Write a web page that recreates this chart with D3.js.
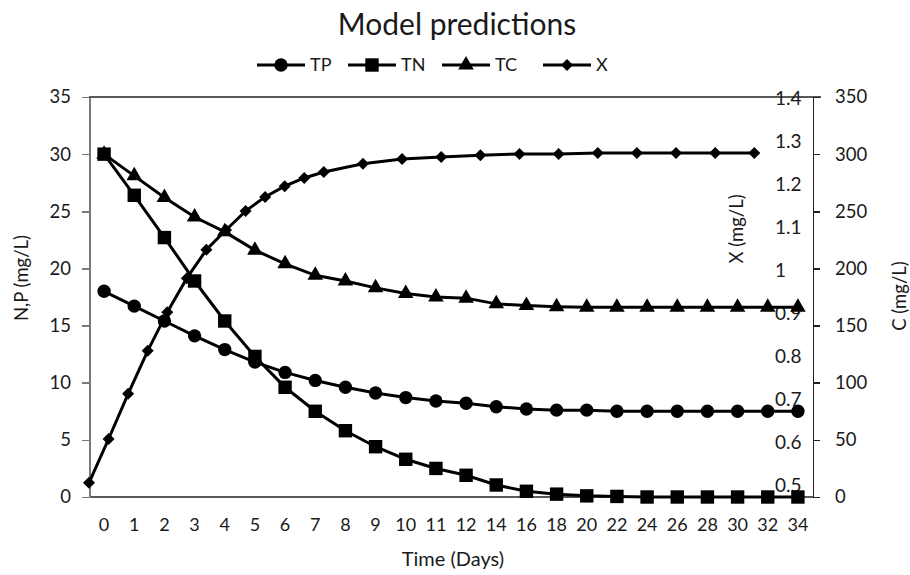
<!DOCTYPE html>
<html lang="en">
<head>
  <meta charset="UTF-8">
  <title>Model predictions</title>
  <script src="https://d3js.org/d3.v7.min.js"></script>
  <style>
    body { margin: 0; background: #fff; }
    svg text { font-family: Lato, "Open Sans", sans-serif; fill: #1a1a1a; }
    .axis text { font-size: 18.5px; }
    .axis path, .axis line { shape-rendering: crispEdges; }
  </style>
</head>
<body>
  <svg width="910" height="575"></svg>
  <script>
  // data
  const days = [0, 1, 2, 3, 4, 5, 6, 7, 8, 9, 10, 11, 12, 14, 16, 18, 20, 22, 24, 26, 28, 30, 32, 34];
  const tp = [18.0, 16.7, 15.4, 14.1, 12.9, 11.8, 10.9, 10.2, 9.6, 9.1, 8.7, 8.4, 8.2, 7.9, 7.7, 7.6, 7.6, 7.5, 7.5, 7.5, 7.5, 7.5, 7.5, 7.5];
  const tn = [30.0, 26.4, 22.7, 18.9, 15.4, 12.3, 9.6, 7.5, 5.8, 4.4, 3.3, 2.5, 1.9, 1.05, 0.5, 0.25, 0.1, 0.05, 0, 0, 0, 0, 0, 0];
  const tc = [300, 281, 262, 245, 232, 216, 204, 194, 189, 183, 178, 175, 174, 169, 167.5, 166.5, 166, 166, 166, 166, 166, 166, 166, 166];
  const xb = [0.505, 0.607, 0.712, 0.812, 0.902, 0.981, 1.047, 1.093, 1.137, 1.17, 1.195, 1.214, 1.228, 1.247, 1.258, 1.263, 1.267, 1.27, 1.27, 1.272, 1.272, 1.272, 1.272, 1.272];
  const npTicks = [0, 5, 10, 15, 20, 25, 30, 35];
  const cTicks = [0, 50, 100, 150, 200, 250, 300, 350];
  const xTicks = [0.5, 0.6, 0.7, 0.8, 0.9, 1, 1.1, 1.2, 1.3, 1.4];

  const plotL = 89, plotR = 813, plotT = 97, plotB = 497;

  const svg = d3.select("svg");

  const x = d3.scaleBand().domain(days).range([plotL, plotR]);
  const xDay = d3.scaleLinear().domain([0, 37]).range([plotL, plotR]); // hidden secondary axis for X
  const yNP = d3.scaleLinear().domain([0, 35]).range([plotB, plotT]);
  const yC = d3.scaleLinear().domain([0, 350]).range([plotB, plotT]);
  const yX = d3.scaleLinear().domain([0.5, 1.4]).range([485, 98]);

  // title
  svg.append("text")
    .attr("x", 457).attr("y", 35)
    .attr("text-anchor", "middle")
    .style("font-size", "30px")
    .text("Model predictions");

  // frame lines
  svg.append("line")
    .attr("x1", plotL).attr("x2", plotR + 8)
    .attr("y1", plotT).attr("y2", plotT)
    .attr("stroke", "#222").attr("stroke-width", 1.5);
  svg.append("line")
    .attr("x1", plotL).attr("x2", plotR)
    .attr("y1", plotB).attr("y2", plotB)
    .attr("stroke", "#222").attr("stroke-width", 1.5);

  // left axis
  const gL = svg.append("g")
    .attr("class", "axis")
    .attr("transform", `translate(${plotL},0)`)
    .call(d3.axisLeft(yNP).tickValues(npTicks).tickSize(7).tickPadding(11).tickSizeOuter(0));
  gL.select(".domain").attr("stroke", "#7a7a7a").attr("stroke-width", 2);
  gL.selectAll(".tick line").attr("stroke", "#7a7a7a").attr("stroke-width", 1.5);

  // right C axis
  const gR = svg.append("g")
    .attr("class", "axis")
    .attr("transform", `translate(${plotR},0)`)
    .call(d3.axisRight(yC).tickValues(cTicks).tickSize(7).tickPadding(15).tickSizeOuter(0));
  gR.select(".domain").attr("stroke", "#222").attr("stroke-width", 1.5);
  gR.selectAll(".tick line").attr("stroke", "#222").attr("stroke-width", 1.5);

  // X axis labels (no axis line)
  svg.append("g").selectAll("text")
    .data(xTicks)
    .join("text")
    .attr("x", 775)
    .attr("y", d => yX(d))
    .attr("dy", "0.36em")
    .style("font-size", "19px")
    .text(d => d);

  // category axis
  const gB = svg.append("g")
    .attr("class", "axis")
    .attr("transform", `translate(0,${plotB})`)
    .call(d3.axisBottom(x).tickSize(0).tickPadding(21));
  gB.select(".domain").remove();
  gB.selectAll("text").style("font-size", "18px");

  // axis titles
  svg.append("text")
    .attr("transform", "translate(28,278) rotate(-90)")
    .attr("text-anchor", "middle")
    .style("font-size", "18.5px")
    .text("N,P (mg/L)");
  svg.append("text")
    .attr("transform", "translate(743,229) rotate(-90)")
    .attr("text-anchor", "middle")
    .style("font-size", "18.5px")
    .text("X (mg/L)");
  svg.append("text")
    .attr("transform", "translate(906,296) rotate(-90)")
    .attr("text-anchor", "middle")
    .style("font-size", "18.5px")
    .text("C (mg/L)");
  svg.append("text")
    .attr("x", 453).attr("y", 566)
    .attr("text-anchor", "middle")
    .style("font-size", "20px")
    .text("Time (Days)");

  const sym = {
    circle: d3.symbol().type(d3.symbolCircle).size(140)(),
    square: d3.symbol().type(d3.symbolSquare).size(180)(),
    triangle: d3.symbol().type(d3.symbolTriangle).size(105)(),
    diamond: d3.symbol().type(d3.symbolSquare).size(72)()
  };

  const series = [
    { name: "TP", values: tp, sx: d => x(d) + x.bandwidth() / 2, sy: yNP, shape: "circle" },
    { name: "TN", values: tn, sx: d => x(d) + x.bandwidth() / 2, sy: yNP, shape: "square" },
    { name: "TC", values: tc, sx: d => x(d) + x.bandwidth() / 2, sy: yC, shape: "triangle" },
    { name: "X", values: xb, sx: d => xDay(d), sy: yX, shape: "diamond" }
  ];

  series.forEach(s => {
    const pts = days.map((d, i) => [s.sx(d), s.sy(s.values[i])]);
    svg.append("path")
      .attr("d", d3.line()(pts))
      .attr("fill", "none")
      .attr("stroke", "#000")
      .attr("stroke-width", 3);
    svg.append("g").selectAll("path")
      .data(pts)
      .join("path")
      .attr("d", sym[s.shape])
      .attr("transform", d => `translate(${d[0]},${d[1]})` + (s.shape === "diamond" ? " rotate(45)" : ""))
      .attr("fill", "#000");
  });

  // legend
  const legendX = [257, 348, 442, 543];
  const leg = svg.append("g");
  series.forEach((s, i) => {
    const lx = legendX[i], ly = 65;
    leg.append("line")
      .attr("x1", lx).attr("x2", lx + 48)
      .attr("y1", ly).attr("y2", ly)
      .attr("stroke", "#000").attr("stroke-width", 3);
    leg.append("path")
      .attr("d", sym[s.shape])
      .attr("transform", `translate(${lx + 24},${ly})` + (s.shape === "diamond" ? " rotate(45)" : ""));
    leg.append("text")
      .attr("x", lx + 53).attr("y", ly)
      .attr("dy", "0.36em")
      .style("font-size", "18px")
      .text(s.name);
  });
  </script>
</body>
</html>
